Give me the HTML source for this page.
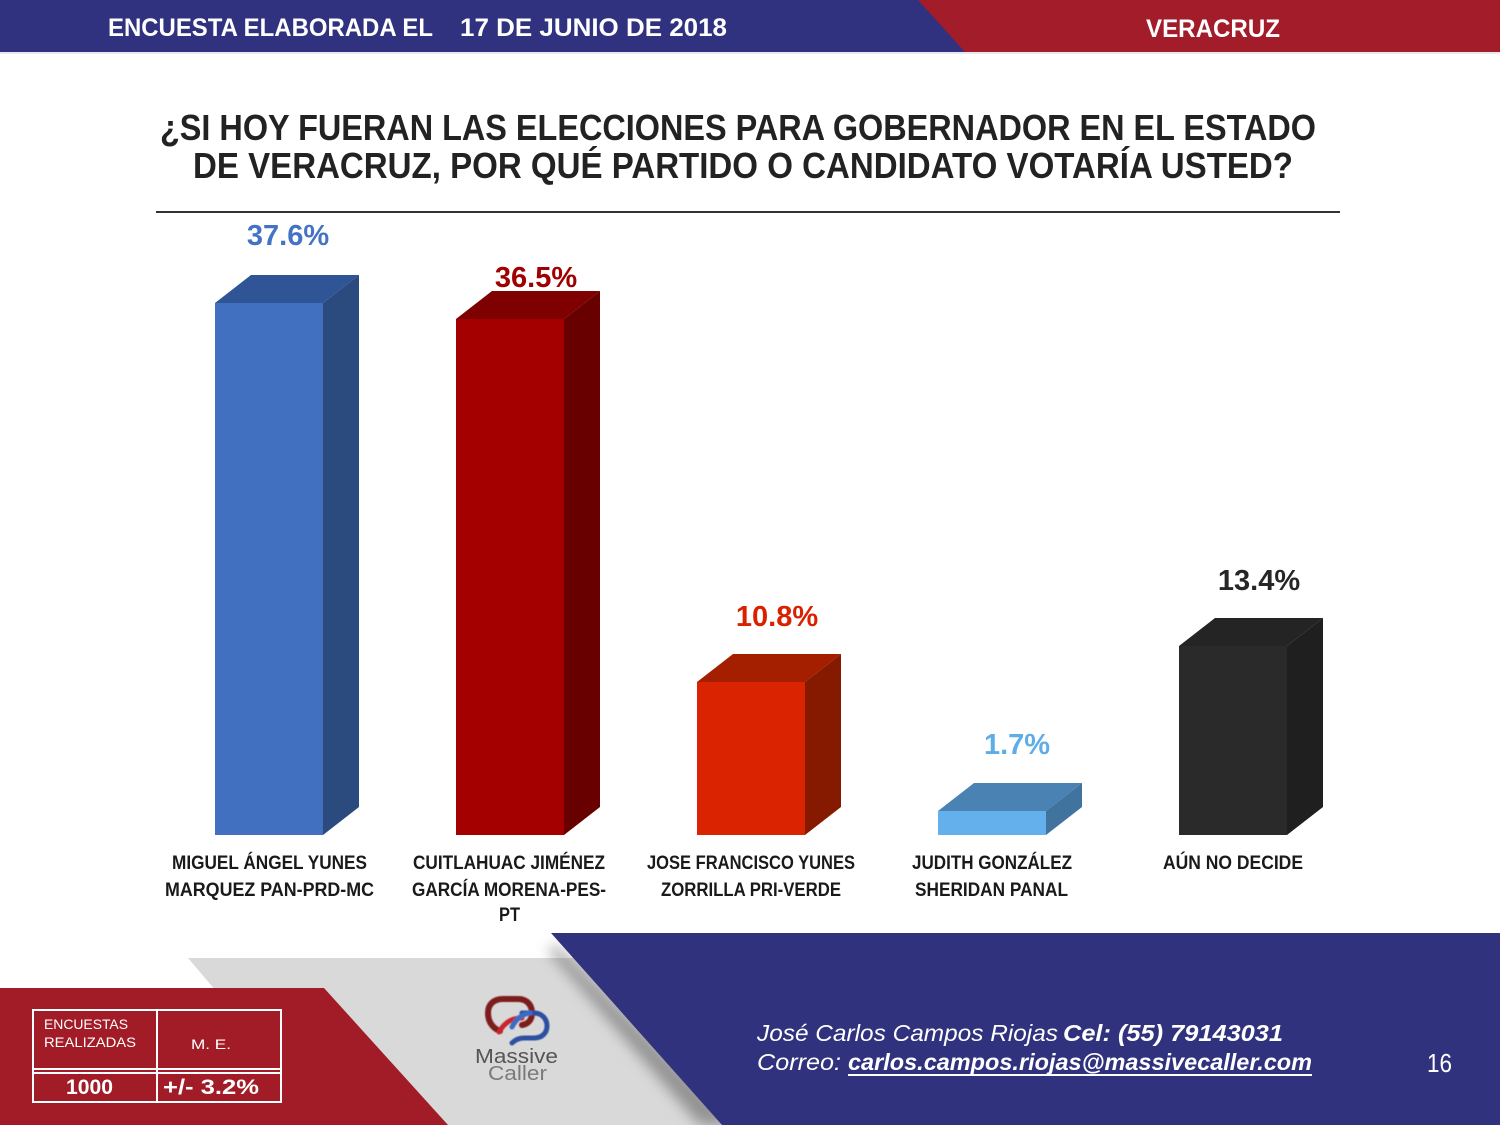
<!DOCTYPE html>
<html><head><meta charset="utf-8"><style>
html,body{margin:0;padding:0;background:#fff;}
svg{display:block;}
text{font-family:"Liberation Sans",Arial,sans-serif;}
</style></head><body>
<svg width="1500" height="1125" viewBox="0 0 1500 1125" xmlns="http://www.w3.org/2000/svg">
<defs>
<filter id="blur" x="-20%" y="-20%" width="140%" height="140%"><feGaussianBlur stdDeviation="7"/></filter>
<filter id="blur2"><feGaussianBlur stdDeviation="0.6"/></filter>
</defs>
<rect width="1500" height="1125" fill="#fff"/>
<!-- header -->
<rect x="0" y="0" width="1500" height="52" fill="#303280"/>
<polygon points="918,0 1500,0 1500,52 965,52" fill="#a31c2a"/>
<rect x="0" y="52" width="1500" height="2" fill="#e8e8f0"/>
<text x="108" y="36" font-size="25" font-weight="bold" fill="#fff" textLength="325" lengthAdjust="spacingAndGlyphs">ENCUESTA ELABORADA EL</text>
<text x="460" y="36" font-size="25" font-weight="bold" fill="#fff" textLength="267" lengthAdjust="spacingAndGlyphs">17 DE JUNIO DE 2018</text>
<text x="1146" y="37" font-size="25" font-weight="bold" fill="#fff" textLength="134" lengthAdjust="spacingAndGlyphs">VERACRUZ</text>

<!-- title -->
<text x="160" y="140" font-size="36" font-weight="bold" fill="#222" textLength="1156" lengthAdjust="spacingAndGlyphs">¿SI HOY FUERAN LAS ELECCIONES PARA GOBERNADOR EN EL ESTADO</text>
<text x="193" y="178" font-size="36" font-weight="bold" fill="#222" textLength="1100" lengthAdjust="spacingAndGlyphs">DE VERACRUZ, POR QUÉ PARTIDO O CANDIDATO VOTARÍA USTED?</text>
<rect x="156" y="211" width="1184" height="2" fill="#333"/>

<!-- bars -->
<polygon points="215,303 323,303 359,275 251,275" fill="#2f5597"/>
<polygon points="323,303 359,275 359,807 323,835" fill="#2b4a7d"/>
<rect x="215" y="303" width="108" height="532" fill="#4070bf"/>

<polygon points="456,319 564,319 600,291 492,291" fill="#7e0000"/>
<polygon points="564,319 600,291 600,807 564,835" fill="#680000"/>
<rect x="456" y="319" width="108" height="516" fill="#a50000"/>

<polygon points="697,682 805,682 841,654 733,654" fill="#a41f00"/>
<polygon points="805,682 841,654 841,807 805,835" fill="#861a00"/>
<rect x="697" y="682" width="108" height="153" fill="#da2300"/>

<polygon points="938,811 1046,811 1082,783 974,783" fill="#4a82b4"/>
<polygon points="1046,811 1082,783 1082,807 1046,835" fill="#41739f"/>
<rect x="938" y="811" width="108" height="24" fill="#63b0ed"/>

<polygon points="1179,646 1287,646 1323,618 1215,618" fill="#242424"/>
<polygon points="1287,646 1323,618 1323,807 1287,835" fill="#1f1f1f"/>
<rect x="1179" y="646" width="108" height="189" fill="#2a2a2a"/>

<!-- value labels -->
<g font-size="29" font-weight="bold" text-anchor="middle">
<text x="288" y="245" fill="#4472c4">37.6%</text>
<text x="536" y="287" fill="#a00000">36.5%</text>
<text x="777" y="626" fill="#d92100">10.8%</text>
<text x="1017" y="754" fill="#5dade8">1.7%</text>
<text x="1259" y="590" fill="#262626">13.4%</text>
</g>

<!-- category labels -->
<g font-size="19.5" font-weight="bold" fill="#1a1a1a">
<text x="172" y="869" textLength="195" lengthAdjust="spacingAndGlyphs">MIGUEL ÁNGEL YUNES</text>
<text x="165" y="896" textLength="209" lengthAdjust="spacingAndGlyphs">MARQUEZ PAN-PRD-MC</text>
<text x="413" y="869" textLength="192" lengthAdjust="spacingAndGlyphs">CUITLAHUAC JIMÉNEZ</text>
<text x="412" y="896" textLength="194" lengthAdjust="spacingAndGlyphs">GARCÍA MORENA-PES-</text>
<text x="499" y="921" textLength="21" lengthAdjust="spacingAndGlyphs">PT</text>
<text x="647" y="869" textLength="208" lengthAdjust="spacingAndGlyphs">JOSE FRANCISCO YUNES</text>
<text x="661" y="896" textLength="180" lengthAdjust="spacingAndGlyphs">ZORRILLA PRI-VERDE</text>
<text x="912" y="869" textLength="160" lengthAdjust="spacingAndGlyphs">JUDITH GONZÁLEZ</text>
<text x="915" y="896" textLength="153" lengthAdjust="spacingAndGlyphs">SHERIDAN PANAL</text>
<text x="1163" y="869" textLength="140" lengthAdjust="spacingAndGlyphs">AÚN NO DECIDE</text>
</g>

<!-- bottom decoration -->
<polygon points="188,958 640,958 800,1125 330,1125" fill="#d9d9d9"/>
<polygon points="548,950 556,945 735,1125 700,1125" fill="#555" opacity="0.55" filter="url(#blur)"/>
<polygon points="0,988 324,988 448,1125 0,1125" fill="#a21c28"/>
<polygon points="551,933 1500,933 1500,1125 722,1125" fill="#30327e"/>

<!-- table -->
<g fill="none" stroke="#fff" stroke-width="2">
<rect x="33" y="1010" width="248" height="92"/>
<line x1="157" y1="1010" x2="157" y2="1102"/>
<line x1="33" y1="1069" x2="281" y2="1069"/>
<line x1="33" y1="1073" x2="281" y2="1073"/>
</g>
<g fill="#fff">
<text x="44" y="1029" font-size="14" textLength="84" lengthAdjust="spacingAndGlyphs">ENCUESTAS</text>
<text x="44" y="1047" font-size="14" textLength="92" lengthAdjust="spacingAndGlyphs">REALIZADAS</text>
<text x="191" y="1049" font-size="14" textLength="40" lengthAdjust="spacingAndGlyphs">M. E.</text>
<text x="66" y="1094" font-size="21" font-weight="bold" textLength="47" lengthAdjust="spacingAndGlyphs">1000</text>
<text x="163" y="1094" font-size="21" font-weight="bold" textLength="96" lengthAdjust="spacingAndGlyphs">+/- 3.2%</text>
</g>

<!-- logo -->
<g filter="url(#blur2)" fill="none" stroke-linecap="round">
<path d="M500,1031 C492,1028 488,1021 488,1013 C488,1004 494,999 503,999 L518,999 C527,999 532,1005 532,1013 C532,1020 528,1024 522,1025" stroke="#7e1a1a" stroke-width="6"/>
<path d="M499,1032 C505,1022 512,1018 522,1018" stroke="#c8262c" stroke-width="5"/>
<path d="M522,1013 L534,1013 C542,1013 547,1019 547,1026 C547,1033 542,1038 534,1038 L524,1038 C518,1038 514,1041 512,1043" stroke="#2d4fa0" stroke-width="5"/>
<path d="M512,1027 C516,1019 522,1014 530,1013" stroke="#3a6cc4" stroke-width="5"/>
</g>
<text x="475" y="1063" font-size="20" fill="#555" textLength="83" lengthAdjust="spacingAndGlyphs">Massive</text>
<text x="488" y="1080" font-size="20" fill="#7a7a7a" textLength="59" lengthAdjust="spacingAndGlyphs">Caller</text>

<!-- contact -->
<g fill="#fff" font-size="23" font-style="italic">
<text x="757" y="1041" textLength="301" lengthAdjust="spacingAndGlyphs">José Carlos Campos Riojas</text>
<text x="1063" y="1041" font-weight="bold" textLength="220" lengthAdjust="spacingAndGlyphs">Cel: (55) 79143031</text>
<text x="757" y="1070" textLength="84" lengthAdjust="spacingAndGlyphs">Correo:</text>
<text x="848" y="1070" font-weight="bold" textLength="464" lengthAdjust="spacingAndGlyphs">carlos.campos.riojas@massivecaller.com</text>
</g>
<rect x="848" y="1074" width="464" height="2" fill="#fff"/>
<text x="1427" y="1072" font-size="26" fill="#fff" textLength="25" lengthAdjust="spacingAndGlyphs">16</text>
</svg>
</body></html>
